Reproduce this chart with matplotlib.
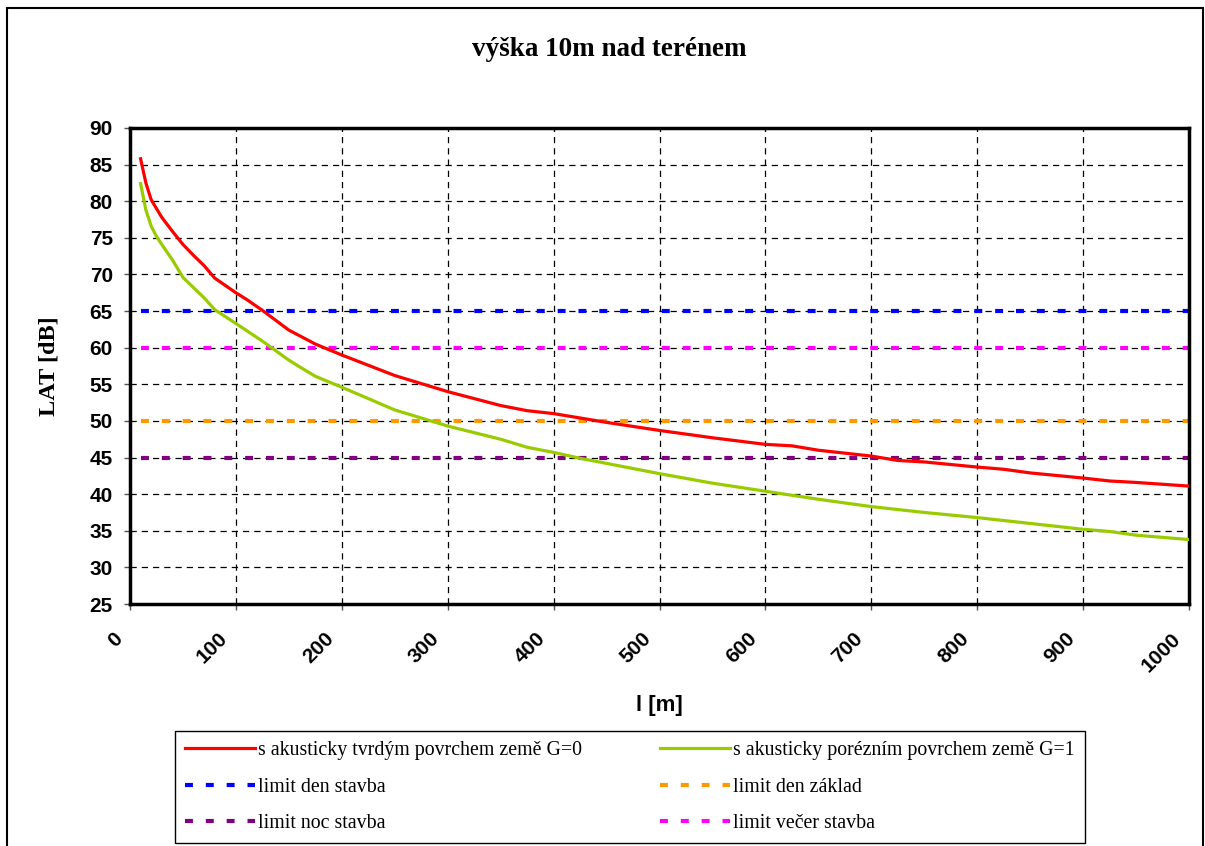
import numpy as np
import matplotlib.pyplot as plt
import matplotlib.transforms as mtransforms
from matplotlib.patches import Rectangle

# distance [m]
dist_red = [10, 15, 20, 25, 30, 40, 50, 60, 70, 80, 100, 110, 125, 150, 175, 200,
            250, 300, 350, 375, 400, 450, 500, 550, 600, 625, 650, 700, 725, 750,
            800, 825, 850, 900, 925, 950, 1000]
lat_hard = [85.8, 82.5, 80.2, 79.0, 77.8, 75.9, 74.1, 72.6, 71.2, 69.5, 67.5, 66.6,
            65.1, 62.4, 60.5, 59.0, 56.2, 54.0, 52.1, 51.4, 51.0, 49.8, 48.7, 47.7,
            46.8, 46.6, 46.0, 45.2, 44.6, 44.4, 43.7, 43.4, 42.9, 42.2, 41.8, 41.6, 41.1]

dist_green = [10, 15, 20, 25, 30, 40, 50, 60, 70, 80, 100, 125, 150, 160, 175, 200,
              250, 300, 350, 375, 400, 425, 450, 500, 550, 600, 650, 700, 750, 800,
              850, 900, 925, 950, 1000]
lat_porous = [82.4, 78.8, 76.6, 75.2, 74.1, 72.0, 69.6, 68.2, 66.8, 65.2, 63.3, 60.9,
              58.3, 57.4, 56.1, 54.6, 51.5, 49.3, 47.5, 46.4, 45.7, 44.9, 44.2, 42.8,
              41.5, 40.4, 39.3, 38.3, 37.5, 36.8, 36.0, 35.2, 34.9, 34.4, 33.8]

limit_x = [10, 1000]
limit_den_stavba = 65
limit_den_zaklad = 50
limit_noc_stavba = 45
limit_vecer_stavba = 60

fig = plt.figure(figsize=(12.05, 8.46), dpi=100)
# outer chart frame
fig.patches.append(Rectangle((7.5 / 1205, -0.01), (1203 - 7.5) / 1205, 1 - 8 / 846 + 0.01,
                             transform=fig.transFigure, fill=False, edgecolor='black',
                             linewidth=1.5))

ax = fig.add_axes([130 / 1205, 1 - 604 / 846, (1189 - 130) / 1205, (604 - 128) / 846])

dash = (0, (1.9, 3.1))
h_red, = ax.plot(dist_red, lat_hard, color='#FF0000', lw=2.3, zorder=5,
                 label='s akusticky tvrdým povrchem země G=0')
h_blue, = ax.plot(limit_x, [limit_den_stavba] * 2, color='#0000FF', lw=3, ls=dash,
                  label='limit den stavba')
h_purple, = ax.plot(limit_x, [limit_noc_stavba] * 2, color='#800080', lw=3, ls=dash,
                    label='limit noc stavba')
h_green, = ax.plot(dist_green, lat_porous, color='#99CC00', lw=2.3, zorder=5,
                   label='s akusticky porézním povrchem země G=1')
h_orange, = ax.plot(limit_x, [limit_den_zaklad] * 2, color='#FF9900', lw=3, ls=dash,
                    label='limit den základ')
h_magenta, = ax.plot(limit_x, [limit_vecer_stavba] * 2, color='#FF00FF', lw=3, ls=dash,
                     label='limit večer stavba')

ax.set_xlim(0, 1000)
ax.set_ylim(25, 90)
ax.set_xticks(np.arange(0, 1001, 100))
ax.set_yticks(np.arange(25, 91, 5))
ax.grid(True, color='black', linestyle=(0, (5, 4)), linewidth=0.9)
ax.set_axisbelow(True)
for s in ax.spines.values():
    s.set_linewidth(2.5)
ax.tick_params(direction='out', length=4.3, width=1, color='#555555')
ax.tick_params(axis='y', pad=8)
ax.tick_params(axis='x', pad=18.5)

for lab in ax.get_yticklabels():
    lab.set_fontweight('bold')
    lab.set_fontsize(15)
    lab.set_family('Liberation Sans')
shift = mtransforms.ScaledTranslation(-11 / 100, 0, fig.dpi_scale_trans)
for lab in ax.get_xticklabels():
    lab.set_fontweight('bold')
    lab.set_fontsize(15)
    lab.set_family('Liberation Sans')
    lab.set_rotation(45)
    lab.set_ha('right')
    lab.set_va('center')
    lab.set_rotation_mode('anchor')
    lab.set_transform(lab.get_transform() + shift)

ax.set_xlabel('l [m]', fontsize=16, fontweight='bold', family='Liberation Sans')
ax.xaxis.set_label_coords(0.5, -(695 - 604) / 476)
ax.set_ylabel('LAT [dB]', fontsize=17.5, fontweight='bold', family='Liberation Serif')
ax.yaxis.set_label_coords(-(130 - 59) / 1059, 0.5)

fig.text(609 / 1205, 1 - 50 / 846, 'výška 10m nad terénem', ha='center', va='center',
         fontsize=19.5, fontweight='bold', family='Liberation Serif')

handles = [h_red, h_blue, h_purple, h_green, h_orange, h_magenta]
leg = fig.legend(handles=handles, labels=[h.get_label() for h in handles], ncol=2,
                 loc='lower left', bbox_to_anchor=(175 / 1205, 1 - 843 / 846),
                 prop={'family': 'Liberation Serif', 'size': 14.3},
                 frameon=True, fancybox=False, edgecolor='black', framealpha=1,
                 handlelength=3.55, handletextpad=0.15, columnspacing=3.9,
                 labelspacing=0.88, borderpad=0.5, borderaxespad=0)
leg.get_frame().set_linewidth(1.0)

fig.savefig('out.png', dpi=100)
